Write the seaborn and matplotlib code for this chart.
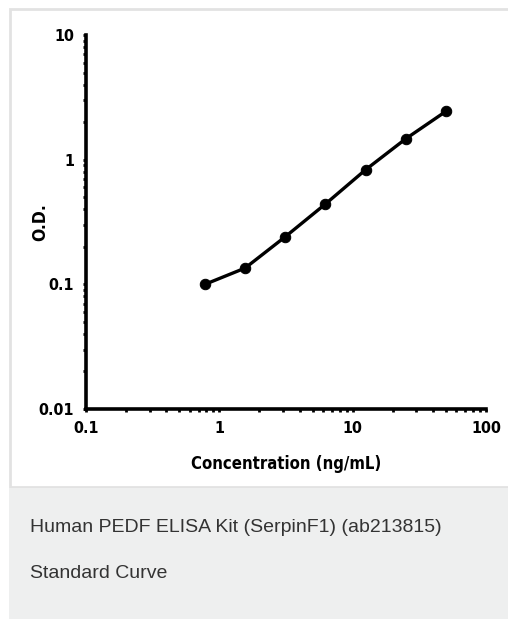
import matplotlib
matplotlib.use("Agg")
import matplotlib.pyplot as plt
import matplotlib.patches as mpatches
from matplotlib.ticker import LogLocator, NullFormatter, FixedFormatter, FixedLocator
import seaborn as sns
import pandas as pd

# standard curve data
concentration = [0.78, 1.56, 3.125, 6.25, 12.5, 25, 50]
od = [0.100, 0.135, 0.241, 0.441, 0.83, 1.47, 2.44]

x_ticks = [0.1, 1, 10, 100]
x_labels = ["0.1", "1", "10", "100"]
y_ticks = [0.01, 0.1, 1, 10]
y_labels = ["0.01", "0.1", "1", "10"]

caption_title = "Human PEDF ELISA Kit (SerpinF1) (ab213815)"
caption_sub = "Standard Curve"

sns.set_style("ticks")
plt.rcParams['font.family'] = ['DejaVu Sans']
plt.rcParams['font.stretch'] = 'condensed'

W, H = 508, 619
fig = plt.figure(figsize=(W / 100, H / 100), dpi=100)

# white panel with light border, then grey caption box
fig.patches.append(mpatches.Rectangle((9.5 / W, 1 - 487 / H), (W - 9) / W, (487 - 8.5) / H,
                                      transform=fig.transFigure, facecolor="white",
                                      edgecolor="#e2e2e2", linewidth=2, zorder=-10))
fig.patches.append(mpatches.Rectangle((9 / W, 0), (W - 9) / W, (H - 488) / H,
                                      transform=fig.transFigure, facecolor="#eeefef",
                                      edgecolor="none", zorder=-10))

ax = fig.add_axes([86 / W, 1 - 409 / H, 400 / W, 374 / H])
ax.set_zorder(5)
ax.patch.set_alpha(0)

df = pd.DataFrame({"conc": concentration, "od": od})
sns.lineplot(data=df, x="conc", y="od", ax=ax, color="black", linewidth=2.4,
             marker="o", markersize=7.5, markeredgecolor="black")

ax.set_xscale("log")
ax.set_yscale("log")
ax.set_xlim(0.1, 100)
ax.set_ylim(0.01, 10)

ax.xaxis.set_major_locator(FixedLocator(x_ticks))
ax.xaxis.set_major_formatter(FixedFormatter(x_labels))
ax.yaxis.set_major_locator(FixedLocator(y_ticks))
ax.yaxis.set_major_formatter(FixedFormatter(y_labels))
ax.xaxis.set_minor_locator(LogLocator(base=10, subs=range(2, 10)))
ax.yaxis.set_minor_locator(LogLocator(base=10, subs=range(2, 10)))
ax.xaxis.set_minor_formatter(NullFormatter())
ax.yaxis.set_minor_formatter(NullFormatter())

ax.tick_params(which="both", direction="out", length=2.5, width=2, color="black",
               labelcolor="black")
ax.tick_params(which="major", labelsize=11.5, pad=6)
for lab in ax.get_xticklabels() + ax.get_yticklabels():
    lab.set_fontweight("bold")
    lab.set_fontstretch("condensed")

sns.despine(ax=ax)
for side in ["left", "bottom"]:
    ax.spines[side].set_linewidth(2.6)
    ax.spines[side].set_color("black")

ax.set_xlabel("Concentration (ng/mL)", fontsize=12, fontweight="bold",
              fontstretch="condensed", color="black")
ax.xaxis.set_label_coords(0.5, -46 / 374)
ax.set_ylabel("O.D.", fontsize=12.5, fontweight="bold", color="black")
ax.yaxis.set_label_coords(-37 / 400, 0.5)

fig.text(30 / W, 1 - 527 / H, caption_title, fontsize=14, color="#333333",
         family="Liberation Sans", fontstretch="normal", va="center", ha="left")
fig.text(30 / W, 1 - 573 / H, caption_sub, fontsize=14, color="#333333",
         family="Liberation Sans", fontstretch="normal", va="center", ha="left")

fig.savefig("out.png", dpi=100)
